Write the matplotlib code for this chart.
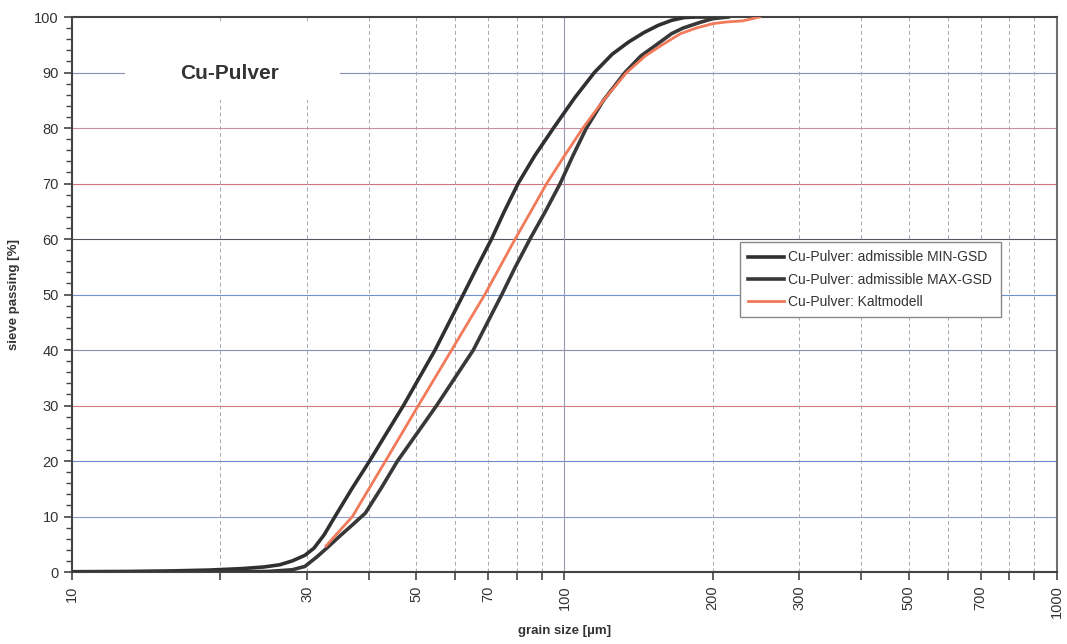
import numpy as np
import matplotlib.pyplot as plt
from matplotlib.patches import Rectangle
from matplotlib.ticker import FixedLocator, NullFormatter

plt.rcParams['font.family'] = ['Liberation Sans', 'DejaVu Sans']

# Korngrößenverteilung, Werte
min_x = [10, 13, 16, 19, 22, 24.5, 26.4, 28, 29.7, 31, 32.5, 34.2, 37, 40.2, 43.5, 47.1,
         54.6, 62.3, 66.5, 71.1, 75.5, 80.5, 87, 95, 105, 115, 125, 135, 145, 155,
         165, 175, 185, 200]
min_y = [0.05, 0.1, 0.2, 0.35, 0.6, 0.9, 1.3, 2.0, 3.0, 4.3, 6.7, 10, 15, 20, 25, 30,
         40, 50, 55, 60, 65, 70, 75, 80, 85.5, 90, 93.3, 95.5, 97.2, 98.5,
         99.4, 99.9, 100, 100]

max_x = [10, 20, 25, 28, 29.7, 31.4, 33, 35, 37, 39.4, 42.5, 45.8, 50.2, 55.0,
         65.3, 74.6, 79.5, 85.1, 91.5, 98, 104, 110.8, 120, 132.7, 143, 153.7,
         165, 174, 188, 200, 215]
max_y = [0, 0.02, 0.1, 0.4, 1.0, 2.7, 4.4, 6.5, 8.4, 10.6, 15.2, 20, 25, 30,
         40, 50, 55, 60, 65, 70, 75, 80, 85, 90, 93, 95,
         97, 98, 99, 99.7, 100]

kalt_x = [32.8, 37.1, 43.3, 50.5, 59.0, 68.9, 79.4, 85.5, 92, 100, 109, 120, 133.7, 146,
          158, 172, 185, 200, 213, 230, 249]
kalt_y = [4.7, 10, 20, 30, 40, 50, 60, 65, 70, 75, 80, 85, 90, 93,
          95, 97, 98, 98.8, 99.1, 99.3, 100]

x_labels = [10, 30, 50, 70, 100, 200, 300, 500, 700, 1000]
x_minor = [20, 40, 60, 80, 90, 400, 600, 800, 900]
x_grid = [20, 30, 40, 50, 60, 70, 80, 90, 200, 300, 400, 500, 600, 700, 800, 900]
y_ticks = list(range(0, 101, 10))
# Gitterlinien 10..90, im Scan unterschiedlich eingefärbt
grid_cols = ['#8a9ac8', '#6f86c8', '#d07a7a', '#8a90b0', '#6f8fd0',
             '#555560', '#d07080', '#c890a0', '#8890b8']

fig = plt.figure(figsize=(10.67, 6.44), dpi=100)
ax = fig.add_axes([0.0675, 0.1118, 0.9231, 0.8618])

ax.set_xscale('log')
ax.set_xlim(10, 1000)
ax.set_ylim(0, 100)

# horizontale Linien
for yv, c in zip(y_ticks[1:], grid_cols):
    ax.axhline(yv, color=c, lw=0.8, zorder=1)
# vertikale Linien
for xv in x_grid:
    ax.axvline(xv, color='#a8a8b0', lw=0.7, ls=(0, (4, 3)), zorder=1)
ax.axvline(100, color='#9a98b0', lw=0.8, zorder=1)

# Titelfeld
ax.add_patch(Rectangle((0.054, 0.85), 0.218, 0.141, transform=ax.transAxes,
                       facecolor='white', edgecolor='none', zorder=2))
ax.text(0.160, 0.899, 'Cu-Pulver', transform=ax.transAxes, ha='center', va='center',
        fontsize=15, fontweight='bold', color='#333333', zorder=3)

ax.plot(min_x, min_y, color='#303030', lw=2.6, zorder=4,
        label='Cu-Pulver: admissible MIN-GSD')
ax.plot(max_x, max_y, color='#383838', lw=2.6, zorder=4,
        label='Cu-Pulver: admissible MAX-GSD')
ax.plot(kalt_x, kalt_y, color='#f07a5a', lw=2.0, zorder=5,
        label='Cu-Pulver: Kaltmodell')

ax.xaxis.set_major_locator(FixedLocator(x_labels))
ax.xaxis.set_minor_locator(FixedLocator(x_minor))
ax.xaxis.set_minor_formatter(NullFormatter())
ax.set_xticklabels([str(v) for v in x_labels], rotation=90)
ax.set_yticks(y_ticks)
ax.set_yticks(np.arange(0, 101, 2), minor=True)

ax.tick_params(axis='both', which='major', direction='out', length=6, width=1.2,
               color='#444444', labelsize=10.5, labelcolor='#333333')
ax.tick_params(axis='x', which='minor', direction='out', length=6, width=1.2, color='#444444')
ax.tick_params(axis='y', which='minor', direction='out', length=4, width=1.0, color='#444444')

for s in ['left', 'bottom', 'top']:
    ax.spines[s].set_color('#444444')
    ax.spines[s].set_linewidth(1.5)
ax.spines['right'].set_color('#707070')
ax.spines['right'].set_linewidth(1.5)

ax.set_xlabel('grain size [µm]', fontsize=9.5, fontweight='bold', color='#333333', labelpad=5)
ax.set_ylabel('sieve passing [%]', fontsize=9.5, fontweight='bold', color='#333333', labelpad=10)

leg = ax.legend(loc='upper left', bbox_to_anchor=(0.671, 0.607), fontsize=10,
                frameon=True, fancybox=False, framealpha=1, edgecolor='#888888',
                handlelength=2.6, handletextpad=0.3, borderpad=0.6, labelspacing=0.6)
leg.get_frame().set_linewidth(1.0)
for t in leg.get_texts():
    t.set_color('#333333')
leg.set_zorder(6)

fig.savefig('out.png', dpi=100)
